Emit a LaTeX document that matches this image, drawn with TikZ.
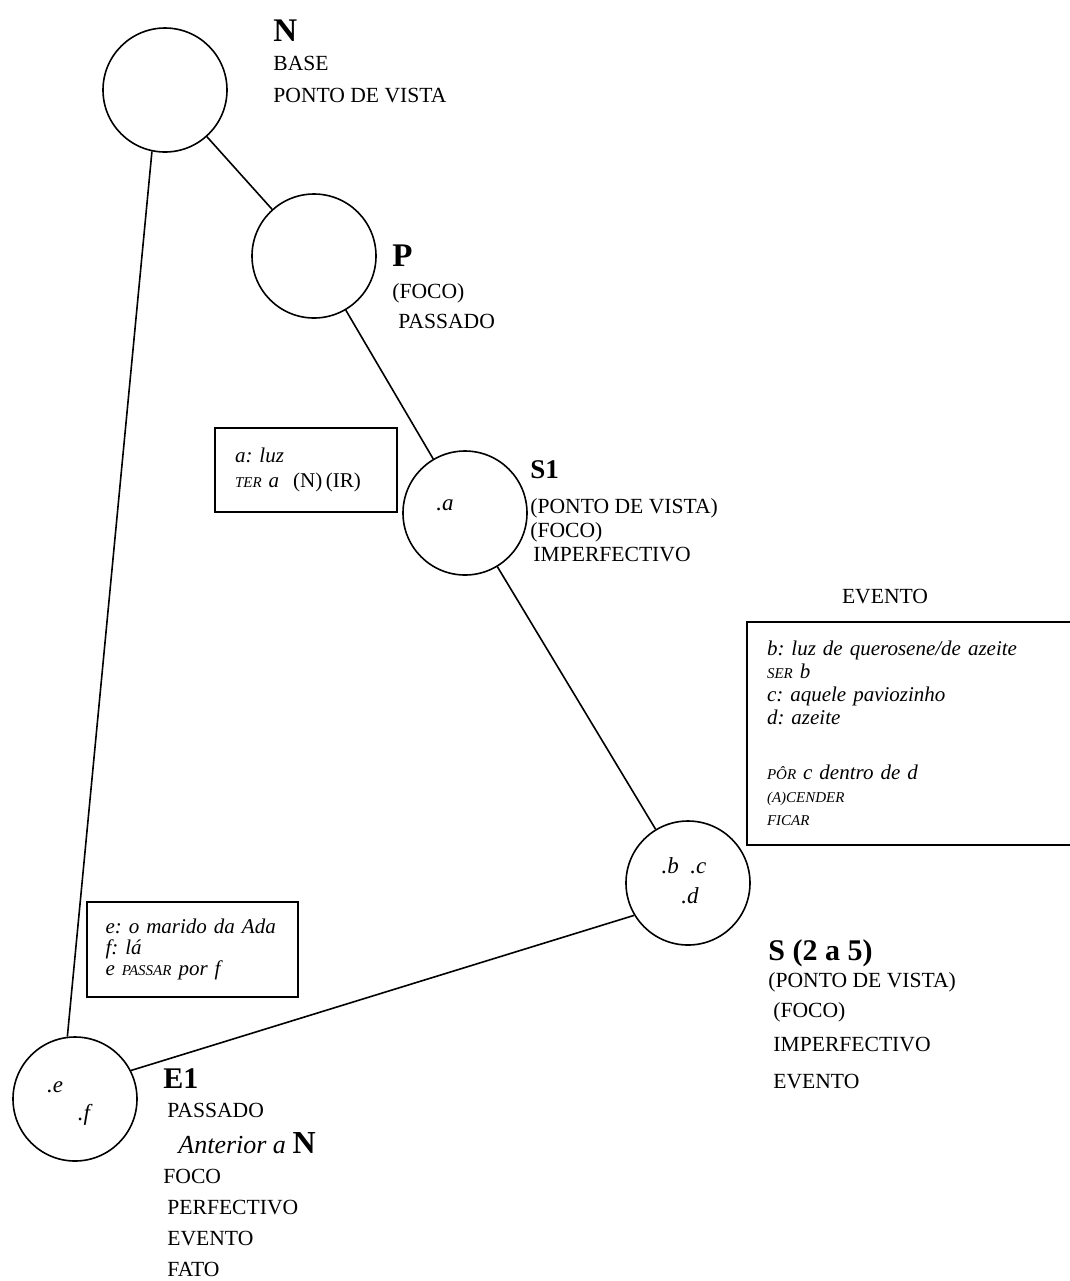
\documentclass[tikz,border=0pt]{standalone}
\usepackage{fontspec}
\setmainfont{Liberation Serif}
\usetikzlibrary{positioning}
\frenchspacing
\newcommand{\versal}[1]{{\fontsize{7.5}{9}\selectfont #1}}
\tikzset{
  circulo/.style={draw,circle,line width=0.8pt,minimum size=62pt,inner sep=0pt},
  ligacao/.style={draw,line width=0.8pt},
  caixa/.style={draw,line width=0.9pt,align=left,inner xsep=10pt,inner ysep=0pt,
                font=\fontsize{10.5}{12.5}\selectfont\itshape},
  titulo/.style={font=\fontsize{15}{17}\selectfont\bfseries,anchor=base west,inner sep=0pt},
  rotulo/.style={font=\fontsize{10.8}{15}\selectfont,anchor=north west,align=left,inner sep=0pt},
  interno/.style={font=\fontsize{11.5}{13}\selectfont\itshape,anchor=base,inner sep=0pt},
}

\begin{document}
\begin{tikzpicture}[x=0.5pt,y=-0.5pt]
\useasboundingbox (0,0) rectangle (1070,1281);

% ---------------- circulos ----------------
\node[circulo] (N)  at (165,90)   {};
\node[circulo] (P)  at (314,256)  {};
\node[circulo] (S1) at (465,513)  {};
\node[circulo] (S)  at (688,883)  {};
\node[circulo] (E1) at (75,1099)  {};

% pontos dentro dos circulos
\node[interno] (pa)  at (445,510)  {.a};
\node[interno] (pbc) at (684,873)  {.b\ \ .c};
\node[interno] (pd)  at (690,903)  {.d};
\node[interno] (pe)  at (55,1092)  {.e};
\node[interno] (pf)  at (84,1120)  {.f};

% ---------------- ligacoes ----------------
\draw[ligacao] (N) -- (P);
\draw[ligacao] (P) -- (S1);
\draw[ligacao] (S1) -- (S);
\draw[ligacao] (N.258) -- (E1.97);
\draw[ligacao] (S.211) -- (E1.27);

% ---------------- rotulos ----------------
\node[titulo,font=\fontsize{16.5}{18}\selectfont\bfseries] (tN) at (273,41) {N};
\node[rotulo,font=\fontsize{10.8}{16}\selectfont] (lN) at (273,56)
  {BASE\\PONTO DE VISTA};

\node[titulo,font=\fontsize{16.5}{18}\selectfont\bfseries] (tP) at (392,266) {P};
\node[rotulo] (lP) at (392,283) {(FOCO)\\\hspace*{3pt}PASSADO};

\node[titulo,font=\fontsize{13.5}{15}\selectfont\bfseries] (tS1) at (530,478) {S1};
\node[rotulo,font=\fontsize{10.8}{12}\selectfont] (lS1) at (530,498)
  {(PONTO DE VISTA)\\(FOCO)\\\hspace*{1.5pt}IMPERFECTIVO};

\node[titulo] (tS) at (768,960) {S (2 a 5)};
\node[rotulo] (lS) at (768,972)
  {(PONTO DE VISTA)\\\hspace*{2.5pt}(FOCO)\\[2pt]
   \hspace*{2.5pt}IMPERFECTIVO\\[3.5pt]\hspace*{2.5pt}EVENTO};

\node[titulo] (tE1) at (163,1088) {E1};
\node[rotulo,font=\fontsize{10.8}{15.4}\selectfont] (lE1) at (163,1103)
  {\hspace*{2pt}PASSADO\\[2.25pt]
   \hspace*{7.5pt}{\fontsize{13}{15}\selectfont\itshape Anterior a }{\fontsize{16}{16}\selectfont\bfseries N}\\
   FOCO\\\hspace*{2pt}PERFECTIVO\\\hspace*{2pt}EVENTO\\\hspace*{2pt}FATO};

% ---------------- caixas ----------------
\node[caixa,text width=71pt,minimum height=42pt] (ca) at (306,470)
  {a: luz\\\versal{TER} a\ \ {\upshape(N)\,(IR)}};

\node[rotulo,anchor=base] (tev) at (885,603) {EVENTO};
\node[caixa,text width=144pt,minimum height=111.5pt,
      font=\fontsize{10.5}{11.5}\selectfont\itshape] (cb) at (911,733.5)
  {b: luz de querosene/de azeite\\
   \versal{SER} b\\
   c: aquele paviozinho\\
   d: azeite\\[16pt]
   \versal{PÔR} c dentro de d\\
   \versal{(A)CENDER}\\
   \versal{FICAR}};

\node[caixa,text width=87pt,inner xsep=9.25pt,minimum height=47.5pt,
      font=\fontsize{10.5}{10.5}\selectfont\itshape] (ce) at (192.5,949.5)
  {e: o marido da Ada\\
   f: lá\\
   e \versal{PASSAR} por f};

\end{tikzpicture}
\end{document}
